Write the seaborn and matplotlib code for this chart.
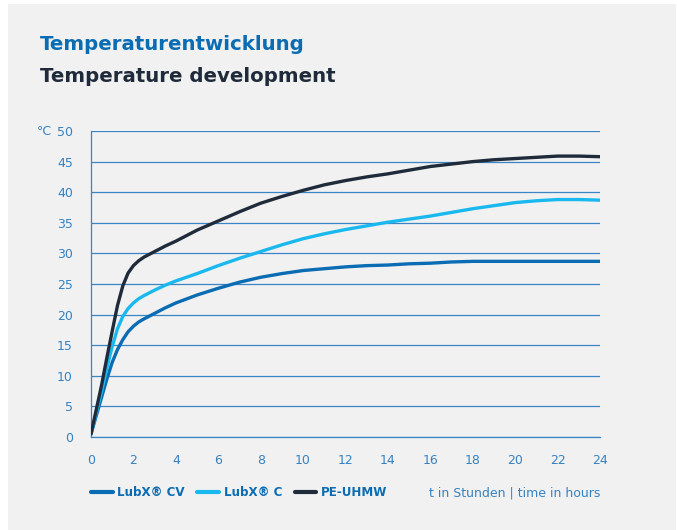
import pandas as pd
import matplotlib
matplotlib.use("Agg")
import matplotlib.pyplot as plt
from matplotlib.patches import Rectangle
from matplotlib.lines import Line2D
import seaborn as sns

# hours
hours = [0, 0.25, 0.5, 0.75, 1, 1.25, 1.5, 1.75, 2, 2.25, 2.5, 3, 3.5, 4, 5, 6, 7, 8, 9, 10,
         11, 12, 13, 14, 15, 16, 17, 18, 19, 20, 21, 22, 23, 24]
lubx_cv = [0.5, 3.5, 6.5, 9.5, 12.2, 14.3, 15.9, 17.2, 18.1, 18.8, 19.3, 20.2, 21.1, 21.9, 23.2,
           24.3, 25.3, 26.1, 26.7, 27.2, 27.5, 27.8, 28.0, 28.1, 28.3, 28.4, 28.6, 28.7, 28.7,
           28.7, 28.7, 28.7, 28.7, 28.7]
lubx_c = [0.5, 4.0, 7.5, 11.3, 14.8, 17.7, 19.7, 21.0, 21.9, 22.6, 23.1, 24.0, 24.8, 25.5, 26.7,
          28.0, 29.2, 30.3, 31.4, 32.4, 33.2, 33.9, 34.5, 35.1, 35.6, 36.1, 36.7, 37.3, 37.8,
          38.3, 38.6, 38.8, 38.8, 38.7]
pe_uhmw = [0.5, 4.5, 8.5, 13.0, 17.3, 21.5, 24.7, 26.8, 28.0, 28.8, 29.4, 30.3, 31.2, 32.0, 33.8,
           35.3, 36.8, 38.2, 39.3, 40.3, 41.2, 41.9, 42.5, 43.0, 43.6, 44.2, 44.6, 45.0, 45.3,
           45.5, 45.7, 45.9, 45.9, 45.8]

series = ["LubX® CV", "LubX® C", "PE-UHMW"]
colors = ["#0a6cb3", "#19b9ef", "#1f2b3a"]
x_ticks = list(range(0, 25, 2))
y_ticks = list(range(0, 51, 5))

n = len(hours)
df = pd.DataFrame({
    "t": hours * 3,
    "temp": lubx_cv + lubx_c + pe_uhmw,
    "material": [series[0]] * n + [series[1]] * n + [series[2]] * n,
})

sns.set_style("white")
plt.rcParams["font.family"] = ["DejaVu Sans"]

blue = "#0a6cb3"
tick_blue = "#3582c2"
grid_blue = "#3a86c4"

fig = plt.figure(figsize=(6.77, 5.30), dpi=100, facecolor="white")
fig.patches.append(Rectangle((8 / 677, 0), 668 / 677, 526 / 530, transform=fig.transFigure,
                             facecolor="#f1f1f1", edgecolor="none", zorder=-10))
ax = fig.add_axes([91 / 677, 93 / 530, 509 / 677, 306 / 530])
ax.set_facecolor("none")

sns.lineplot(data=df, x="t", y="temp", hue="material", palette=dict(zip(series, colors)),
             linewidth=2.4, ax=ax, legend=False, zorder=3)

ax.set_xlim(0, 24)
ax.set_ylim(0, 50)
ax.set_xticks(x_ticks)
ax.set_yticks(y_ticks)
ax.yaxis.grid(True, color=grid_blue, linewidth=0.9)
ax.xaxis.grid(False)
ax.set_xlabel("")
ax.set_ylabel("")
for s in ["top", "right"]:
    ax.spines[s].set_visible(False)
for s in ["left", "bottom"]:
    ax.spines[s].set_color(grid_blue)
    ax.spines[s].set_linewidth(0.9)
ax.tick_params(axis="both", colors=grid_blue, labelcolor=tick_blue, labelsize=9,
               length=5, width=0.9, direction="out")
ax.tick_params(axis="x", pad=7)
ax.tick_params(axis="y", pad=8)

ax.text(-54 / 509, 50, "°C", transform=ax.get_yaxis_transform(), color=tick_blue,
        fontsize=9, va="center", ha="left")

fig.text(40 / 677, 1 - 45 / 530, "Temperaturentwicklung", color=blue, fontsize=14.2,
         fontweight="bold", va="center", ha="left")
fig.text(40 / 677, 1 - 77 / 530, "Temperature development", color="#1f2b3a", fontsize=14.2,
         fontweight="bold", va="center", ha="left")

handles = [Line2D([0], [0], color=c, linewidth=3) for c in colors]
leg = fig.legend(handles, series, loc="center left", bbox_to_anchor=(91 / 677, 1 - 493 / 530),
                 ncol=3, frameon=False, borderpad=0, borderaxespad=0, handlelength=1.8,
                 handletextpad=0.4, columnspacing=1.05, prop={"size": 8.6, "weight": "bold"})
for txt in leg.get_texts():
    txt.set_color(blue)

fig.text(600 / 677, 1 - 493 / 530, "t in Stunden | time in hours", color=tick_blue,
         fontsize=9, va="center", ha="right")

fig.savefig("out.png", dpi=100, facecolor=fig.get_facecolor())
